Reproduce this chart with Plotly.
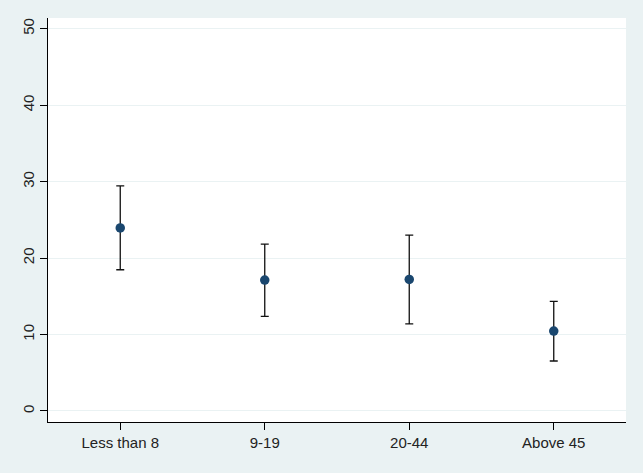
import plotly.graph_objects as go

categories = ["Less than 8", "9-19", "20-44", "Above 45"]
means = [23.95, 17.12, 17.2, 10.46]
upper = [29.45, 21.83, 23.0, 14.34]
lower = [18.47, 12.38, 11.4, 6.54]
y_ticks = [0, 10, 20, 30, 40, 50]

err_plus = [u - m for u, m in zip(upper, means)]
err_minus = [m - l for m, l in zip(means, lower)]

fig = go.Figure()
fig.add_trace(go.Scatter(
    x=categories, y=means, mode="markers",
    marker=dict(color="#1A476F", size=9.5),
    error_y=dict(type="data", symmetric=False, array=err_plus, arrayminus=err_minus,
                 color="#111111", thickness=1.3, width=4),
    showlegend=False,
))

fig.update_layout(
    width=643, height=473,
    margin=dict(l=48, r=17, t=18, b=51),
    paper_bgcolor="#EAF2F3", plot_bgcolor="white",
    font=dict(family="Liberation Sans, Arial, sans-serif", size=15, color="#222222"),
    xaxis=dict(
        type="category", range=[-0.5, 3.5],
        showline=True, linecolor="black", linewidth=1.3,
        ticks="outside", ticklen=7, tickcolor="black", tickwidth=1,
        showgrid=False, zeroline=False,
        tickfont=dict(size=15),
    ),
    yaxis=dict(
        range=[-1.44, 51.4], tickvals=y_ticks,
        showline=True, linecolor="black", linewidth=1.3,
        ticks="outside", ticklen=7, tickcolor="black", tickwidth=1,
        showgrid=True, gridcolor="#EAF2F3", gridwidth=1, zeroline=False,
        tickangle=-90, tickfont=dict(size=15),
    ),
)

fig.write_html("out.html", config={"displayModeBar": False},
               post_script="document.body.style.margin='0';")
